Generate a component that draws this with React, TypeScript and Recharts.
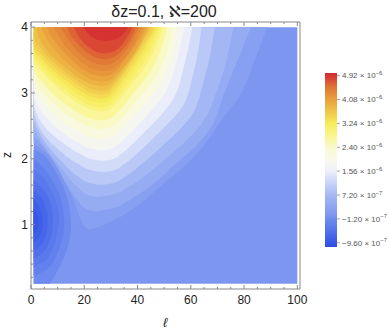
import React from "react";
import { ComposedChart, Area, XAxis, YAxis } from "recharts";

// values are in units of 1e-6
const V_MIN = -1.11;
const V_MAX = 5.015;

const xTicks = [0, 20, 40, 60, 80, 100];
const xMinor = [0, 5, 10, 15, 20, 25, 30, 35, 40, 45, 50, 55, 60, 65, 70, 75, 80, 85, 90, 95, 100];
const yTicks = [1, 2, 3, 4];
const yMinor = [0.2, 0.4, 0.6, 0.8, 1, 1.2, 1.4, 1.6, 1.8, 2, 2.2, 2.4, 2.6, 2.8, 3, 3.2, 3.4, 3.6, 3.8, 4];
const barValues = [4.92, 4.08, 3.24, 2.4, 1.56, 0.72, -0.12, -0.96];

// data region: l from 1 to 100, z from 0.1 to 4
const field: number[][] = [[0.1, 1, 100], [4, 1, 100]];

// region below each negative level, rows are [z, l from, l to]
const negLevels = [-0.08, -0.22, -0.36, -0.5, -0.64, -0.78, -0.9];
const n008 = [[0.1, 1, 7], [0.3, 1, 10], [0.6, 1, 13.3], [0.95, 1, 15], [1.3, 1, 14.2], [1.6, 1, 11.8], [1.9, 1, 7.8], [2.05, 1, 5], [2.15, 1, 1]];
const n022 = [[0.22, 1, 1], [0.32, 1, 6], [0.5, 1, 9.2], [0.75, 1, 11.5], [1.0, 1, 12.5], [1.3, 1, 11.8], [1.6, 1, 9], [1.85, 1, 5], [2.0, 1, 1]];
const n036 = [[0.36, 1, 1], [0.45, 1, 5.2], [0.62, 1, 8], [0.85, 1, 9.8], [1.05, 1, 10.5], [1.3, 1, 9.8], [1.55, 1, 7.2], [1.75, 1, 3.8], [1.85, 1, 1]];
const n050 = [[0.48, 1, 1], [0.57, 1, 4.5], [0.75, 1, 7], [1.0, 1, 8.3], [1.25, 1, 7.8], [1.5, 1, 5.2], [1.68, 1, 1]];
const n064 = [[0.6, 1, 1], [0.7, 1, 4], [0.88, 1, 5.8], [1.05, 1, 6.3], [1.25, 1, 5.6], [1.42, 1, 3.6], [1.53, 1, 1]];
const n078 = [[0.72, 1, 1], [0.82, 1, 3.2], [1.0, 1, 4.4], [1.2, 1, 3.8], [1.33, 1, 2.2], [1.4, 1, 1]];
const n090 = [[0.86, 1, 1], [0.93, 1, 2.2], [1.05, 1, 2.8], [1.17, 1, 2.2], [1.24, 1, 1]];

// region above each positive level
const posLevels = [0.1, 0.3, 0.55, 0.8, 1.1, 1.4, 1.7, 2.0, 2.3, 2.6, 2.9, 3.05, 3.2, 3.35, 3.5, 3.65, 3.8, 3.95, 4.1, 4.25, 4.4, 4.55, 4.7, 4.88];
const p010 = [[0.92, 22, 22], [0.96, 20.4, 25], [1.08, 18.6, 31.8], [1.26, 17, 39], [1.56, 14, 48], [2.0, 8.8, 60.5], [2.27, 1, 66.2], [2.5, 1, 70], [3.0, 1, 79], [3.5, 1, 84], [4.0, 1, 88.7]];
const p030 = [[1.2, 24, 24], [1.24, 20.8, 30], [1.38, 17.2, 37.2], [1.6, 13.4, 45.4], [1.9, 9.4, 53.6], [2.2, 4.2, 62], [2.38, 1, 66], [3.0, 1, 72.6], [3.5, 1, 77.6], [4.0, 1, 82.6]];
const p055 = [[1.42, 25, 25], [1.45, 21.6, 30], [1.57, 17.4, 36.6], [1.78, 12.8, 44], [2.05, 7.6, 52], [2.32, 3, 59.4], [2.5, 1, 63.4], [3.1, 1, 70.4], [4.0, 1, 76]];
const p080 = [[1.6, 26, 26], [1.63, 22.4, 30.5], [1.74, 17.4, 35.8], [1.94, 12, 42.2], [2.2, 6.2, 49.4], [2.45, 2.4, 56], [2.62, 1, 59.6], [3.2, 1, 65], [4.0, 1, 69]];
const p110 = [[1.8, 27, 27], [1.82, 23.3, 30.6], [1.92, 17.8, 35], [2.1, 11.4, 40.4], [2.33, 5.4, 46.4], [2.58, 2, 52.6], [2.75, 1, 56.2], [3.3, 1, 61], [4.0, 1, 64]];
const p140 = [[1.97, 27, 27], [1.99, 23.5, 30.3], [2.08, 18.2, 34], [2.25, 11.6, 38.8], [2.47, 5.4, 44.2], [2.7, 2, 49.6], [2.87, 1, 52.8], [3.4, 1, 57.4], [4.0, 1, 60.5]];
const p170 = [[2.13, 26.5, 26.5], [2.15, 23.1, 29.7], [2.24, 18, 33.2], [2.4, 11.8, 37.6], [2.62, 5.8, 42.6], [2.84, 2.2, 47.4], [2.98, 1, 50], [3.45, 1, 54.4], [4.0, 1, 57.5]];
const p200 = [[2.3, 26.5, 26.5], [2.32, 23.2, 29.5], [2.4, 18.4, 32.6], [2.56, 12.2, 36.6], [2.77, 6.4, 41.2], [2.97, 2.5, 45.6], [3.1, 1, 48], [3.5, 1, 52.4], [4.0, 1, 55]];
const p230 = [[2.45, 26.5, 26.5], [2.47, 23.3, 29.3], [2.55, 18.6, 32.2], [2.7, 12.7, 35.9], [2.9, 7, 40], [3.1, 2.8, 44.2], [3.22, 1, 46.4], [3.6, 1, 50.7], [4.0, 1, 53]];
const p260 = [[2.58, 26.5, 26.5], [2.6, 23.4, 29.1], [2.68, 18.8, 31.8], [2.83, 13, 35.2], [3.02, 7.6, 39], [3.22, 3.2, 43], [3.35, 1, 45.2], [3.7, 1, 49], [4.0, 1, 51]];
const p290 = [[2.72, 26.5, 26.5], [2.74, 23.5, 29], [2.82, 19, 31.5], [2.97, 13.4, 34.6], [3.15, 8, 38.2], [3.35, 3.5, 42], [3.47, 1, 44], [3.75, 1, 47.3], [4.0, 1, 49.5]];
const p305 = [[2.78, 26.5, 26.5], [2.8, 23.5, 29], [2.88, 19.1, 31.2], [3.03, 13.6, 34.3], [3.22, 7.8, 37.9], [3.42, 3.2, 41.5], [3.53, 1, 43.3], [3.78, 1, 46.3], [4.0, 1, 48.6]];
const p320 = [[2.85, 26.5, 26.5], [2.87, 23.6, 28.8], [2.95, 19.2, 31], [3.1, 13.8, 34], [3.3, 7.6, 37.6], [3.5, 3, 41], [3.6, 1, 42.6], [3.8, 1, 45.3], [4.0, 1, 47.8]];
const p335 = [[2.91, 26.5, 26.5], [2.93, 23.7, 28.7], [3.01, 19.4, 30.8], [3.16, 14.1, 33.7], [3.35, 8.1, 37.1], [3.55, 3.3, 40.5], [3.66, 1, 42.3], [3.83, 1, 44.7], [4.0, 1, 46.9]];
const p350 = [[2.97, 26.5, 26.5], [2.99, 23.8, 28.6], [3.07, 19.6, 30.6], [3.22, 14.4, 33.5], [3.4, 8.6, 36.7], [3.6, 3.6, 40], [3.72, 1, 42], [3.85, 1, 44.1], [4.0, 1, 46]];
const p365 = [[3.03, 26.5, 26.5], [3.05, 23.8, 28.7], [3.13, 19.5, 30.9], [3.28, 14.2, 34], [3.45, 9, 37], [3.65, 4.3, 40.2], [3.85, 1, 43], [4.0, 1, 45.1]];
const p380 = [[3.1, 26.5, 26.5], [3.12, 23.8, 28.8], [3.2, 19.4, 31.3], [3.35, 14, 34.4], [3.5, 9.5, 37.2], [3.7, 5, 40.5], [3.85, 3, 42.6], [4.0, 2, 44.3]];
const p395 = [[3.17, 26.8, 26.8], [3.19, 24, 29.1], [3.27, 19.7, 31.8], [3.42, 14.7, 35.3], [3.6, 10, 38.6], [3.8, 6.2, 41.3], [4.0, 4, 43.5]];
const p410 = [[3.25, 27, 27], [3.27, 24.3, 29.4], [3.35, 20, 32.2], [3.5, 15.4, 35.2], [3.7, 10.6, 38.6], [3.85, 7.8, 41], [4.0, 6, 42.7]];
const p425 = [[3.33, 27.2, 27.2], [3.35, 24.5, 29.7], [3.42, 20.8, 32.3], [3.55, 16.8, 35.5], [3.72, 12.8, 38.5], [3.88, 10.2, 40.3], [4.0, 8.5, 41.6]];
const p440 = [[3.42, 27.5, 27.5], [3.44, 24.8, 30], [3.5, 21.6, 32.4], [3.6, 18.4, 34.8], [3.75, 15, 37.3], [3.9, 12.6, 39.3], [4.0, 11, 40.5]];
const p455 = [[3.51, 27.6, 27.6], [3.53, 25, 30.2], [3.59, 22, 32.6], [3.7, 18.7, 35.3], [3.84, 15.6, 37.6], [4.0, 13.5, 39.3]];
const p470 = [[3.6, 27.8, 27.8], [3.62, 25.3, 30.2], [3.68, 22.3, 32.8], [3.8, 19, 35.3], [3.9, 17.3, 36.9], [4.0, 16, 38]];
const p488 = [[3.79, 28, 28], [3.8, 26, 30], [3.84, 23.4, 32.8], [3.9, 21.6, 34.7], [3.96, 20.3, 35.9], [4.0, 19.6, 36.6]];

const negRegions = [n008, n022, n036, n050, n064, n078, n090];
const posRegions = [p010, p030, p055, p080, p110, p140, p170, p200, p230, p260, p290, p305, p320, p335, p350, p365, p380, p395, p410, p425, p440, p455, p470, p488];

// TemperatureMap-like colour scale
const palette: [number, string][] = [
  [0, "#2c4be6"], [0.09, "#5171eb"], [0.16, "#6e8bef"], [0.183, "#7d97f0"],
  [0.3, "#a6b9f4"], [0.38, "#cfd9f8"], [0.44, "#eef0fa"], [0.5, "#f9f9ee"],
  [0.575, "#f9f9cc"], [0.64, "#faf590"], [0.71, "#f7ec5a"], [0.78, "#efc64a"],
  [0.847, "#e9a03c"], [0.92, "#e07436"], [0.975, "#d83c34"], [1, "#d22a2e"],
];

function rgb(h: string) {
  return [1, 3, 5].map((i) => parseInt(h.slice(i, i + 2), 16));
}

function tempColor(v: number) {
  const t = Math.max(0, Math.min(1, (v - V_MIN) / (V_MAX - V_MIN)));
  for (let i = 1; i < palette.length; i++) {
    const [t1, c1] = palette[i];
    const [t0, c0] = palette[i - 1];
    if (t <= t1) {
      const f = (t - t0) / (t1 - t0);
      const a = rgb(c0);
      const b = rgb(c1);
      const c = a.map((x, k) => Math.round(x + (b[k] - x) * f));
      return `rgb(${c[0]},${c[1]},${c[2]})`;
    }
  }
  return palette[palette.length - 1][1];
}

const toRows = (rows: number[][]) => rows.map(([z, a, b]) => ({ z, r: [a, b] }));

function barLabel(v: number) {
  const neg = v < 0;
  const a = Math.abs(v);
  const exp = a >= 1 ? "−6" : "−7";
  const m = (a >= 1 ? a : a * 10).toFixed(2);
  return { mant: (neg ? "−" : "") + m, exp };
}

const font = "'Liberation Sans', Arial, 'DejaVu Sans', sans-serif";
const frame = "#888";
const labelStyle = { fill: "#222", fontSize: 12, fontFamily: font };

// frame ticks point inwards; majors are longer and, on bottom/left, labelled
function BottomTick({ x, y, payload }: any) {
  const major = xTicks.includes(payload.value);
  return (
    <g>
      <line x1={x} x2={x} y1={y} y2={y - (major ? 4 : 2)} stroke={frame} />
      {major && <text x={x} y={y + 15} textAnchor="middle" {...labelStyle}>{payload.value}</text>}
    </g>
  );
}
function TopTick({ x, y, payload }: any) {
  const major = xTicks.includes(payload.value);
  return <line x1={x} x2={x} y1={y} y2={y + (major ? 4 : 2)} stroke={frame} />;
}
function LeftTick({ x, y, payload }: any) {
  const major = yTicks.includes(payload.value);
  return (
    <g>
      <line x1={x} x2={x + (major ? 4 : 2)} y1={y} y2={y} stroke={frame} />
      {major && <text x={x - 3} y={y + 4.3} textAnchor="end" {...labelStyle}>{payload.value}</text>}
    </g>
  );
}
function RightTick({ x, y, payload }: any) {
  const major = yTicks.includes(payload.value);
  return <line x1={x} x2={x - (major ? 4 : 2)} y1={y} y2={y} stroke={frame} />;
}

export default function App() {
  const bar = { x: 325, y: 73, w: 12, h: 174 };
  const barY = (v: number) => bar.y + bar.h - ((v - V_MIN) / (V_MAX - V_MIN)) * bar.h;
  const zDomain = [0.022, 4.078];
  const lDomain = [0, 101];

  return (
    <div style={{ position: "absolute", left: 0, top: 0, width: 390, height: 332, background: "#fff" }}>
      <ComposedChart
        width={390}
        height={332}
        layout="vertical"
        margin={{ top: 21, right: 89, bottom: 0, left: 0 }}
      >
        <XAxis type="number" domain={lDomain} allowDataOverflow ticks={xMinor} interval={0}
          height={43} tickSize={0} tickMargin={0} stroke={frame} tickLine={false} tick={<BottomTick />} />
        <XAxis xAxisId="t" orientation="top" type="number" domain={lDomain} allowDataOverflow ticks={xMinor}
          interval={0} height={1} tickSize={0} tickMargin={0} stroke={frame} tickLine={false} tick={<TopTick />} />
        <YAxis type="number" dataKey="z" reversed domain={zDomain} allowDataOverflow ticks={yMinor} interval={0}
          width={31} tickSize={0} tickMargin={0} stroke={frame} tickLine={false} tick={<LeftTick />} />
        <YAxis yAxisId="r" orientation="right" type="number" reversed domain={zDomain} allowDataOverflow
          ticks={yMinor} interval={0} width={1} tickSize={0} tickMargin={0} stroke={frame} tickLine={false}
          tick={<RightTick />} />

        <Area data={toRows(field)} dataKey="r" type="linear" fill={tempColor(0.01)} fillOpacity={1}
          stroke="none" dot={false} activeDot={false} isAnimationActive={false} />
        {negRegions.map((rows, i) => {
          const mid = i < negLevels.length - 1 ? (negLevels[i] + negLevels[i + 1]) / 2 : -0.95;
          return (
            <Area key={"n" + i} data={toRows(rows)} dataKey="r" type="monotone" fill={tempColor(mid)}
              fillOpacity={1} stroke="none" dot={false} activeDot={false} isAnimationActive={false} />
          );
        })}
        {posRegions.map((rows, i) => {
          const mid = i < posLevels.length - 1 ? (posLevels[i] + posLevels[i + 1]) / 2 : 4.95;
          return (
            <Area key={"p" + i} data={toRows(rows)} dataKey="r" type="monotone" fill={tempColor(mid)}
              fillOpacity={1} stroke="none" dot={false} activeDot={false} isAnimationActive={false} />
          );
        })}
      </ComposedChart>

      <svg width={390} height={332} style={{ position: "absolute", left: 0, top: 0, pointerEvents: "none" }}>
        <defs>
          <linearGradient id="cb" x1="0" y1="1" x2="0" y2="0">
            {palette.map(([t, c]) => (
              <stop key={t} offset={t} stopColor={c} />
            ))}
          </linearGradient>
        </defs>
        <text x={164} y={17} textAnchor="middle" fontSize={16} fontFamily={font} fill="#222">
          δz=0.1, ℵ=200
        </text>
        <text x={11} y={155} textAnchor="middle" fontSize={12} fontFamily={font} fill="#222"
          transform="rotate(-90 11 155)">z</text>
        <text x={165} y={327} textAnchor="middle" fontSize={13} fontStyle="italic" fontFamily={font} fill="#222">ℓ</text>

        <rect x={bar.x} y={bar.y} width={bar.w} height={bar.h} fill="url(#cb)" />
        {barValues.map((v) => {
          const y = barY(v);
          const { mant, exp } = barLabel(v);
          return (
            <g key={v}>
              <line x1={bar.x + bar.w} x2={bar.x + bar.w + 3} y1={y} y2={y} stroke="#888" strokeWidth={0.8} />
              <text x={342} y={y + 2.8} fontSize={8} fontFamily={font} fill="#555">
                {mant} × 10<tspan dy={-3.2} fontSize={5.8}>{exp}</tspan>
              </text>
            </g>
          );
        })}
      </svg>
    </div>
  );
}
